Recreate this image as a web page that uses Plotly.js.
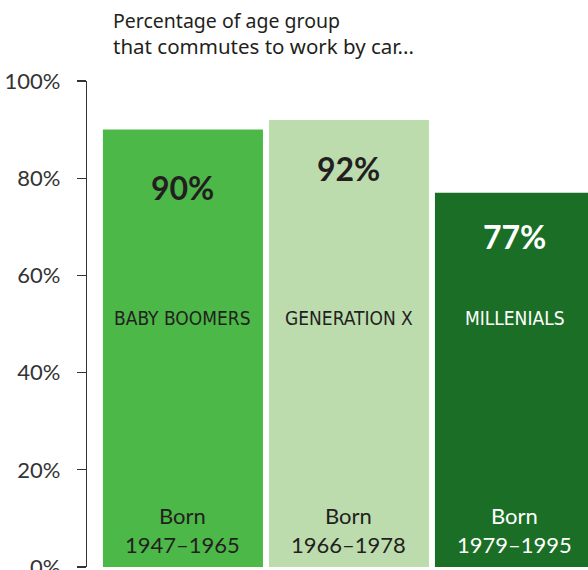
<!DOCTYPE html>
<html>
<head>
<meta charset="utf-8">
<script src="https://cdn.plot.ly/plotly-3.0.1.min.js"></script>
<style>html,body{margin:0;padding:0;background:#fff;}#chart{width:588px;height:570px;}</style>
</head>
<body>
<div id="chart"></div>
<script>
const categories = ["BABY BOOMERS", "GENERATION X", "MILLENIALS"];
const values = [90, 92, 77];
const valueLabels = ["90%", "92%", "77%"];
const bornLabels = ["Born<br>1947–1965", "Born<br>1966–1978", "Born<br>1979–1995"];
const tickValues = [0, 20, 40, 60, 80, 100];
const tickLabels = ["0%", "20%", "40%", "60%", "80%", "100%"];
const titleLines = ["Percentage of age group", "that commutes to work by car..."];

const barColors = ["#4cb848", "#bcdcae", "#1a6e25"];
const textColors = ["#231f20", "#231f20", "#ffffff"];
const valueShift = [-58, -49, -44];

const baseFont = "Lato, 'Noto Sans', sans-serif";
const titleFont = "'Noto Sans', Lato, sans-serif";
const narrowFont = "'Liberation Sans Narrow', 'DejaVu Sans Condensed', Lato, sans-serif";

// pixel helpers for layout placement
const plotTop = 81, plotBottom = 567, plotLeft = 87, plotWidth = 501;
const pxToPaperY = p => (plotBottom - p) / (plotBottom - plotTop);
const pxToPaperX = p => (p - plotLeft) / plotWidth;

const annotations = [];
const titleCenters = [21, 46];
const titleSizes = [19.5, 20.5];
titleLines.forEach((t, i) => {
  annotations.push({
    x: pxToPaperX(111), y: pxToPaperY(titleCenters[i]), xref: "paper", yref: "paper",
    xanchor: "left", yanchor: "middle", text: t, showarrow: false,
    font: {family: titleFont, size: titleSizes[i], color: "#231f20"}
  });
});
categories.forEach((c, i) => {
  annotations.push({
    x: c, y: values[i], xref: "x", yref: "y", yanchor: "middle",
    yshift: valueShift[i], text: "<b>" + valueLabels[i] + "</b>", showarrow: false,
    font: {family: baseFont, size: 32, color: textColors[i]}
  });
  annotations.push({
    x: c, y: 51.2, xref: "x", yref: "y", yanchor: "middle",
    text: c, showarrow: false,
    font: {family: narrowFont, size: 19, color: textColors[i]}
  });
  annotations.push({
    x: c, y: 0, xref: "x", yref: "y", yanchor: "middle", yshift: 37,
    text: bornLabels[i], showarrow: false, align: "center",
    font: {family: baseFont, size: 22, color: textColors[i]}
  });
});

const trace = {
  type: "bar",
  x: categories,
  y: values,
  width: 0.964,
  marker: {color: barColors, line: {width: 0}},
  hoverinfo: "none"
};

const layout = {
  width: 588, height: 570,
  margin: {l: 87, r: 0, t: 81, b: 3, pad: 0},
  paper_bgcolor: "#ffffff",
  plot_bgcolor: "#ffffff",
  showlegend: false,
  xaxis: {
    range: [-0.578, 2.44],
    showticklabels: false, showgrid: false, zeroline: false, showline: false, ticks: ""
  },
  yaxis: {
    range: [0, 100],
    tickvals: tickValues, ticktext: tickLabels,
    ticks: "outside", ticklen: 9, tickwidth: 1.2, tickcolor: "#333333",
    showline: true, linecolor: "#333333", linewidth: 1.2,
    showgrid: false, zeroline: false,
    ticklabelstandoff: 12,
    ticklabeloverflow: "allow",
    tickfont: {family: baseFont, size: 22, color: "#333333"}
  },
  annotations: annotations
};

Plotly.newPlot("chart", [trace], layout, {staticPlot: true, displayModeBar: false});
</script>
</body>
</html>
